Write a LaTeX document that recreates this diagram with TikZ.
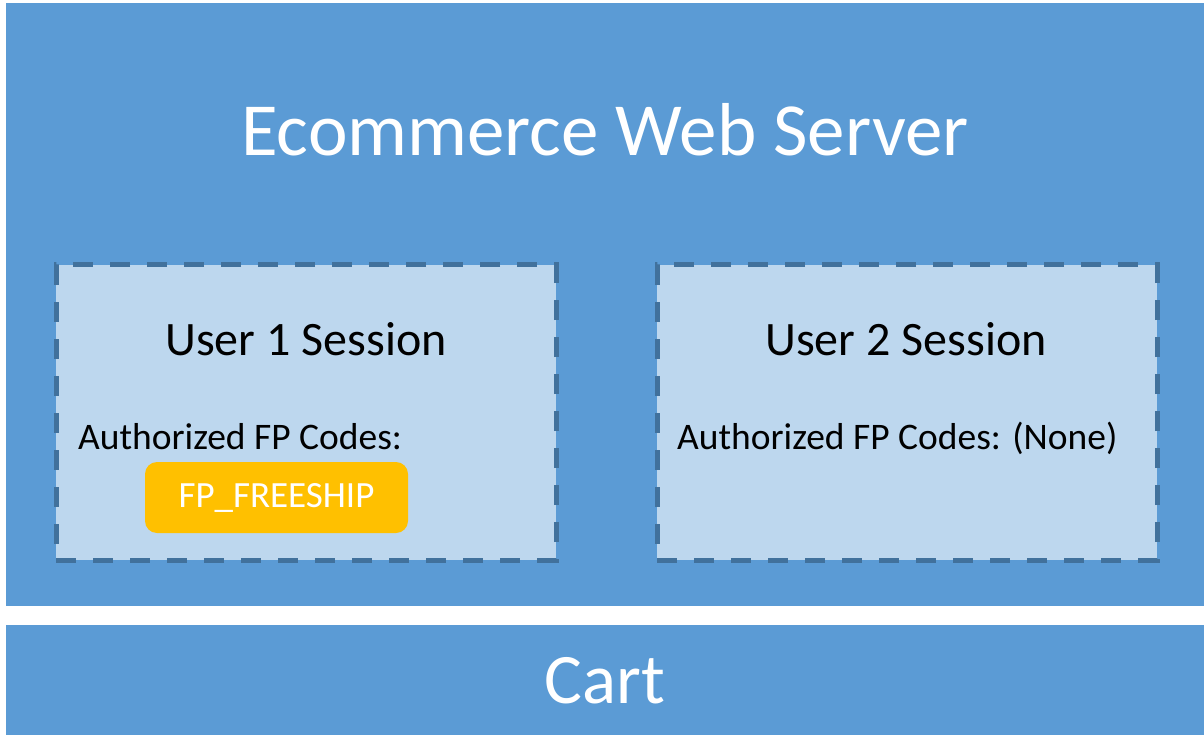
\documentclass[tikz,border=0pt]{standalone}
\usepackage{fontspec}
\setmainfont{Carlito}
\definecolor{srvblue}{HTML}{5B9BD5}
\definecolor{sesfill}{HTML}{BDD7EE}
\definecolor{sesline}{HTML}{41719C}
\definecolor{codegold}{HTML}{FFC000}
\tikzset{
  panel/.style={fill=srvblue,draw=none,inner sep=0pt,outer sep=0pt},
  session/.style={fill=sesfill,draw=sesline,line width=5pt,dash pattern=on 20pt off 17pt,inner sep=0pt},
  codebox/.style={fill=codegold,rounded corners=12pt,inner sep=0pt},
}
\begin{document}
\begin{tikzpicture}[x=1pt,y=-1pt]
\useasboundingbox (0,0) rectangle (1204,735);
\fill[white] (0,0) rectangle (1204,735);
% server and cart panels
\node[panel,minimum width=1198pt,minimum height=603pt] (server) at (605,304.5) {};
\node[panel,minimum width=1198pt,minimum height=110pt] (cartbox) at (605,680) {};
\node[anchor=base,text=white,font=\fontsize{75}{90}\selectfont] (title) at (605,156) {Ecommerce Web Server};
\node[anchor=base,text=white,font=\fontsize{71}{85}\selectfont] (cart) at (605,703) {Cart};
% sessions
\node[session,minimum width=500pt,minimum height=295pt] (s1) at (306,412.5) {};
\node[session,minimum width=500pt,minimum height=295pt] (s2) at (907,412.5) {};
\node[anchor=base,font=\fontsize{48}{58}\selectfont] (s1title) at (306,355) {User 1 Session};
\node[anchor=base,font=\fontsize{48}{58}\selectfont] (s2title) at (906,355) {User 2 Session};
\node[anchor=base west,inner sep=0pt,font=\fontsize{37.5}{45}\selectfont] (s1codes) at (78,449) {Authorized FP Codes:};
\node[anchor=base west,inner sep=0pt,font=\fontsize{37.5}{45}\selectfont] (s2codes) at (677,449) {Authorized FP Codes: (None)};
% code tag
\node[codebox,minimum width=263pt,minimum height=71pt] (freeship) at (276.5,497.5) {};
\node[text=white,font=\fontsize{37}{44}\selectfont] (fscode) at (freeship) {FP\_FREESHIP};
\end{tikzpicture}
\end{document}
